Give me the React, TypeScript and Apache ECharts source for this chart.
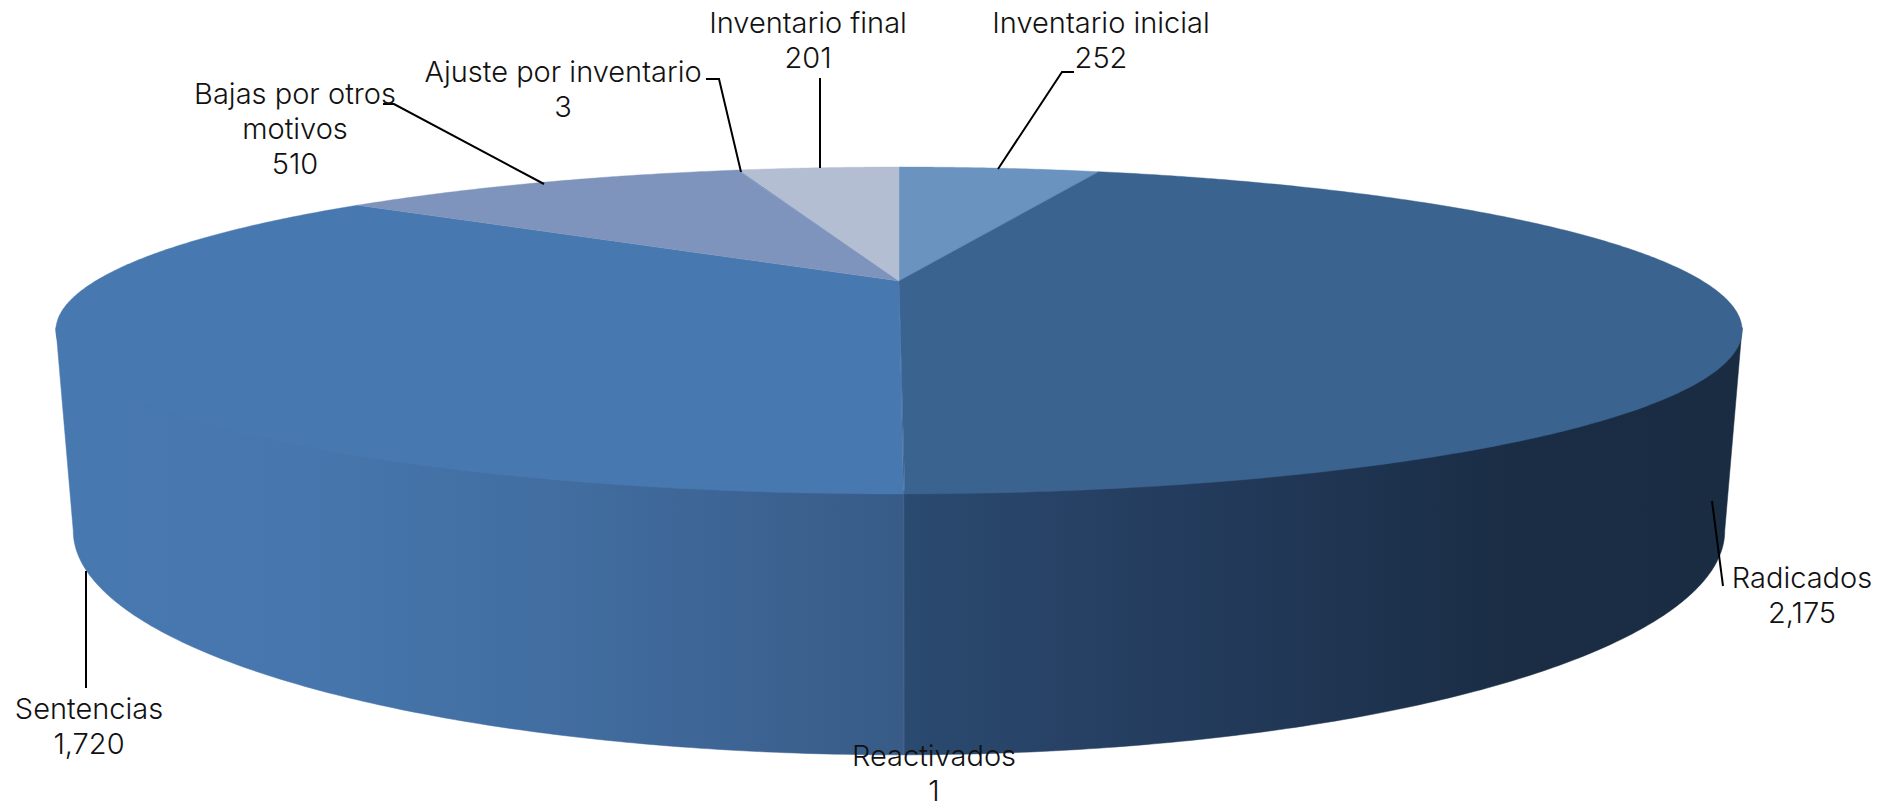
import React, { useEffect, useRef } from "react";
import * as echarts from "echarts";

const categories = ["Inventario inicial", "Radicados", "Reactivados", "Sentencias", "Bajas por otros\nmotivos", "Ajuste por inventario", "Inventario final"];
const values = [252, 2175, 1, 1720, 510, 3, 201];
const topColors = ["#6b93bf", "#3b6390", "#3f6895", "#4878b0", "#7e94bd", "#7e94bd", "#b3bed3"];

const labelCenters = [[1101, 40], [1802, 595], [934, 772.5], [89, 726], [295, 128], [563, 89], [808, 40]];
const lineGap = 35;
const leaders = [
  [[1074, 72], [1062, 72], [998, 169]],
  [[1712, 501], [1723, 586]],
  [],
  [[86, 571], [86, 688]],
  [[383, 104], [394, 104], [544, 184]],
  [[706, 79], [719, 79], [741, 172]],
  [[820, 78], [820, 168]],
];

const K = 0.3027;
const TILT = (Math.acos(-K) * 180) / Math.PI; // silhouette angle from far point
const TOP = { cx: 899, cy: 281, a: 803.6, b: 148.5 };
const TOP_UNDER = { cx: 899, cy: 278, a: 803.6, b: 148.5 };
const BOTTOM = { cx: 899, cy: 463, a: 787, b: 203.5 };

const project = (deg: number, p: typeof TOP) => {
  const t = (deg * Math.PI) / 180;
  const w = 1 + K * Math.cos(t);
  return [p.cx + (p.a * Math.sin(t)) / w, p.cy - (p.b * Math.cos(t)) / w];
};
const arc = (from: number, to: number, p: typeof TOP) => {
  const n = Math.max(2, Math.ceil(Math.abs(to - from) / 0.5));
  const pts: number[][] = [];
  for (let i = 0; i <= n; i++) pts.push(project(from + ((to - from) * i) / n, p));
  return pts;
};

const total = values.reduce((s, v) => s + v, 0);
const toDeg = (v: number) => (v / total) * 360;

const rightWall = {
  type: "linear", global: true, x: 905, y: 0, x2: 1740, y2: 0,
  colorStops: [
    { offset: 0, color: "#2b4a70" },
    { offset: 0.35, color: "#233b5c" },
    { offset: 0.72, color: "#1a2d45" },
    { offset: 1, color: "#1a2c42" },
  ],
};
const leftWall = {
  type: "linear", global: true, x: 56, y: 0, x2: 905, y2: 0,
  colorStops: [
    { offset: 0, color: "#4878b0" },
    { offset: 0.3, color: "#4676ad" },
    { offset: 0.6, color: "#416da0" },
    { offset: 1, color: "#385b87" },
  ],
};

function renderSlice(_: any, api: any) {
  const startV = api.value(0);
  const endV = api.value(1);
  const idx = api.value(2);
  const a0 = toDeg(startV);
  const a1 = toDeg(endV);
  const children: any[] = [];
  const lo = Math.max(a0, TILT);
  const hi = Math.min(a1, 360 - TILT);
  if (hi > lo) {
    const fill = (lo + hi) / 2 < 180 ? rightWall : leftWall;
    children.push({
      type: "polygon",
      shape: { points: [...arc(lo, hi, TOP_UNDER), ...arc(hi, lo, BOTTOM)] },
      style: { fill, stroke: fill, lineWidth: 0.5 },
    });
  }
  children.push({
    type: "polygon",
    z2: 10,
    shape: { points: [[TOP.cx, TOP.cy], ...arc(a0, a1, TOP)] },
    style: { fill: topColors[idx], stroke: topColors[idx], lineWidth: 0.4 },
  });
  return { type: "group", children };
}

export default function App() {
  const ref = useRef<HTMLDivElement>(null);
  useEffect(() => {
    const chart = echarts.init(ref.current!, null, { renderer: "svg" });
    let acc = 0;
    const data = values.map((v, i) => {
      const row = [acc, acc + v, i];
      acc += v;
      return row;
    });
    const text = categories.flatMap((c, i) => {
      const rows = [...c.split("\n"), values[i].toLocaleString("en-US")];
      return rows.map((t, j) => ({
        type: "text",
        x: labelCenters[i][0],
        y: labelCenters[i][1] + (j - (rows.length - 1) / 2) * lineGap,
        z: 20,
        style: {
          text: t,
          align: "center",
          verticalAlign: "middle",
          fontFamily: "Inter",
          fontWeight: 300,
          fontSize: 29,
          fill: "#111111",
        },
      }));
    });
    const lines = leaders.filter((l) => l.length).map((l) => ({
      type: "polyline",
      z: 19,
      shape: { points: l },
      style: { stroke: "#000000", lineWidth: 2, fill: "none" },
    }));
    chart.setOption({
      animation: false,
      backgroundColor: "#ffffff",
      series: [
        {
          type: "custom",
          coordinateSystem: "none",
          renderItem: renderSlice,
          silent: true,
          clip: false,
          data,
        },
      ],
      graphic: [...lines, ...text],
    });
    return () => chart.dispose();
  }, []);
  return <div ref={ref} style={{ position: "absolute", left: 0, top: 0, width: 1900, height: 808 }} />;
}
